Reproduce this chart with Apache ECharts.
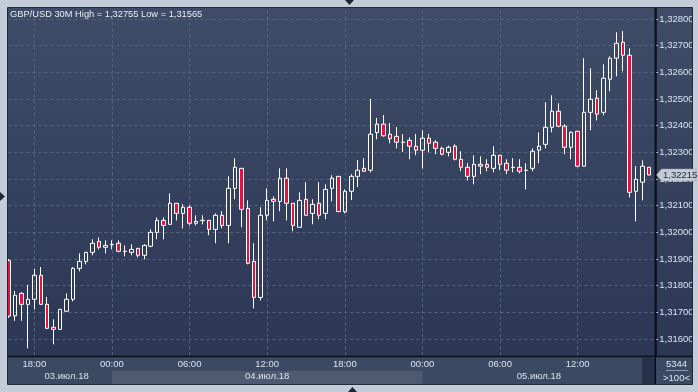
<!DOCTYPE html>
<html><head><meta charset="utf-8">
<script src="https://cdn.jsdelivr.net/npm/echarts@6/dist/echarts.min.js"></script>
<style>html,body{margin:0;padding:0;background:#c3ccd8;}#c{width:698px;height:392px;}</style>
</head><body><div id="c"></div>
<script>
// ---- data (GBP/USD, 30-minute bars, 03.07.2018 16:00 .. 05.07.2018 17:30) ----
const opens = [1.31894,1.31687,1.31771,1.31730,1.31749,1.31839,1.31730,1.31644,1.31636,1.31704,
1.31749,1.31865,1.31891,1.31925,1.31966,1.31944,1.31954,1.31959,1.31928,1.31925,
1.31940,1.31914,1.31948,1.32000,1.32045,1.32030,1.32109,1.32071,1.32094,1.32034,
1.32044,1.32045,1.32011,1.32064,1.32026,1.32165,1.32240,1.32090,1.31891,1.31756,
1.32064,1.32124,1.32116,1.32203,1.32109,1.32019,1.32124,1.32071,1.32109,1.32071,
1.32165,1.32210,1.32077,1.32154,1.32210,1.32240,1.32233,1.32374,1.32406,1.32368,
1.32360,1.32337,1.32345,1.32323,1.32308,1.32353,1.32338,1.32315,1.32300,1.32323,
1.32274,1.32244,1.32210,1.32255,1.32255,1.32240,1.32289,1.32259,1.32243,1.32244,
1.32232,1.32240,1.32308,1.32330,1.32394,1.32454,1.32398,1.32319,1.32379,1.32248,
1.32450,1.32503,1.32450,1.32574,1.32653,1.32713,1.32664,1.32154,1.32188,1.32244];
const closes = [1.31686,1.31764,1.31730,1.31749,1.31839,1.31730,1.31640,1.31636,1.31711,1.31749,
1.31865,1.31891,1.31925,1.31959,1.31944,1.31951,1.31955,1.31929,1.31929,1.31936,
1.31914,1.31951,1.32000,1.32045,1.32026,1.32109,1.32071,1.32094,1.32034,1.32041,
1.32045,1.32011,1.32064,1.32026,1.32165,1.32244,1.32086,1.31884,1.31756,1.32064,
1.32120,1.32116,1.32203,1.32109,1.32026,1.32120,1.32064,1.32105,1.32064,1.32161,
1.32203,1.32078,1.32154,1.32210,1.32233,1.32229,1.32368,1.32406,1.32362,1.32351,
1.32338,1.32338,1.32323,1.32308,1.32353,1.32334,1.32315,1.32293,1.32319,1.32274,
1.32244,1.32210,1.32255,1.32248,1.32244,1.32289,1.32255,1.32233,1.32244,1.32229,
1.32233,1.32304,1.32323,1.32394,1.32454,1.32398,1.32319,1.32375,1.32248,1.32450,
1.32499,1.32443,1.32578,1.32653,1.32709,1.32664,1.32150,1.32199,1.32248,1.32215];
const lows = [1.31679,1.31668,1.31668,1.31565,1.31711,1.31728,1.31638,1.31580,1.31634,1.31703,
1.31741,1.31854,1.31880,1.31914,1.31936,1.31921,1.31936,1.31925,1.31910,1.31914,
1.31906,1.31899,1.31944,1.31974,1.31974,1.32029,1.32045,1.32015,1.32026,1.32026,
1.32030,1.31989,1.31959,1.32015,1.31959,1.32124,1.32019,1.31880,1.31715,1.31745,
1.32045,1.32041,1.32079,1.32045,1.32004,1.32018,1.32063,1.32030,1.32049,1.32049,
1.32116,1.32075,1.32071,1.32121,1.32170,1.32228,1.32225,1.32349,1.32359,1.32334,
1.32315,1.32302,1.32274,1.32289,1.32239,1.32300,1.32293,1.32289,1.32285,1.32270,
1.32229,1.32195,1.32180,1.32218,1.32229,1.32225,1.32233,1.32218,1.32225,1.32221,
1.32161,1.32229,1.32259,1.32315,1.32375,1.32394,1.32293,1.32274,1.32244,1.32247,
1.32383,1.32420,1.32439,1.32529,1.32585,1.32604,1.32131,1.32041,1.32120,1.32214];
const highs = [1.31900,1.31780,1.31776,1.31803,1.31863,1.31870,1.31758,1.31674,1.31713,1.31771,
1.31869,1.31921,1.31927,1.31974,1.31981,1.31970,1.31970,1.31970,1.31951,1.31955,
1.31941,1.31955,1.32011,1.32056,1.32056,1.32146,1.32110,1.32105,1.32101,1.32064,
1.32064,1.32046,1.32071,1.32079,1.32210,1.32278,1.32241,1.32120,1.31959,1.32094,
1.32165,1.32135,1.32240,1.32240,1.32110,1.32150,1.32188,1.32124,1.32188,1.32180,
1.32214,1.32211,1.32161,1.32218,1.32271,1.32278,1.32500,1.32429,1.32440,1.32410,
1.32395,1.32368,1.32356,1.32369,1.32383,1.32369,1.32345,1.32321,1.32325,1.32330,
1.32304,1.32259,1.32289,1.32285,1.32274,1.32323,1.32290,1.32274,1.32278,1.32274,
1.32259,1.32315,1.32375,1.32488,1.32514,1.32484,1.32405,1.32379,1.32380,1.32653,
1.32615,1.32533,1.32630,1.32660,1.32750,1.32755,1.32690,1.32248,1.32270,1.32245];

// categories: one per 30-minute bar, plus one empty slot at the right edge
const categories = [];
(function () {
  const pad = n => String(n).padStart(2, '0');
  const t0 = Date.UTC(2018, 6, 3, 16, 0);
  for (let i = 0; i <= opens.length; i++) {
    const d = new Date(t0 + i * 1800000);
    categories.push(d.getUTCFullYear() + '-' + pad(d.getUTCMonth() + 1) + '-' + pad(d.getUTCDate()) + ' ' + pad(d.getUTCHours()) + ':' + pad(d.getUTCMinutes()));
  }
})();
const timeTickLabels = ['00:00', '06:00', '12:00', '18:00'];
const dateLabels = ['03.июл.18', '04.июл.18', '05.июл.18'];
const dateLabelSlots = ['2018-07-03 20:30', '2018-07-04 12:00', '2018-07-05 09:00'];
const dayBand = ['2018-07-04 00:00', '2018-07-05 00:00'];
const yTicks = { min: 1.315, max: 1.329, step: 0.001 };
const barsTotal = '5344';
const barsVisible = '>100<';

// ---- chart ----
const FONT = '"Liberation Sans", Arial, sans-serif';
const fmt = v => v.toFixed(5).replace('.', ',');
const ohlc = opens.map((o, i) => [o, closes[i], lows[i], highs[i]]);
const isTimeTick = i => i < opens.length && timeTickLabels.indexOf(categories[i].slice(11)) >= 0;
const hiVal = Math.max.apply(null, highs), loVal = Math.min.apply(null, lows);

const chart = echarts.init(document.getElementById('c'), null, { renderer: 'canvas', width: 698, height: 392 });
const gridLine = { color: '#56647e', type: [3, 3], width: 1 };
chart.setOption({
  animation: false,
  backgroundColor: '#c3ccd8',
  textStyle: { fontFamily: FONT },
  title: {
    text: 'GBP/USD 30M High = ' + fmt(hiVal) + ' Low = ' + fmt(loVal),
    left: 10, top: 10, padding: 0, z: 70,
    textStyle: { color: '#e8edf5', fontSize: 9.3, fontWeight: 'normal', fontFamily: FONT }
  },
  grid: { left: 8.42, right: 42.7, top: -7.67, bottom: 26.33, containLabel: false, outerBoundsMode: 'none' },
  xAxis: [
    { type: 'category', data: categories, boundaryGap: false,
      axisLine: { show: false }, axisTick: { show: false }, axisLabel: { show: false },
      splitLine: { show: true, interval: i => isTimeTick(i), lineStyle: gridLine } },
    { type: 'category', data: categories, boundaryGap: false, position: 'bottom', z: 60,
      axisLine: { show: false }, axisTick: { show: false }, splitLine: { show: false },
      axisLabel: { interval: i => isTimeTick(i), formatter: v => v.slice(11), margin: -6,
        color: '#d9e2ef', fontSize: 9.5, fontFamily: FONT } },
    { type: 'category', data: categories, boundaryGap: false, position: 'bottom', z: 60,
      axisLine: { show: false }, axisTick: { show: false }, splitLine: { show: false },
      axisLabel: { interval: (i, v) => dateLabelSlots.indexOf(v) >= 0,
        formatter: v => dateLabels[dateLabelSlots.indexOf(v)], margin: 6,
        color: '#d9e2ef', fontSize: 9.5, fontFamily: FONT } }
  ],
  yAxis: {
    type: 'value', position: 'right', min: yTicks.min, max: yTicks.max, interval: yTicks.step,
    axisLine: { show: true, lineStyle: { color: '#0b0f17', width: 1.5 } },
    axisTick: { show: true, length: 3, lineStyle: { color: '#8fa6c8' } },
    axisLabel: { margin: 4, color: '#d9e3f2', fontSize: 9.5, fontFamily: FONT,
      formatter: v => (v < yTicks.min + 0.0009 || v > yTicks.max - 0.0009) ? '' : fmt(v) },
    splitLine: { show: true, lineStyle: gridLine }
  },
  series: [{
    type: 'candlestick', data: ohlc, xAxisIndex: 0, yAxisIndex: 0, barWidth: 4,
    itemStyle: { color: 'rgba(0,0,0,0)', color0: '#e3153e', borderColor: '#ffffff', borderColor0: '#ffffff', borderWidth: 1 }
  }]
});

// decorations positioned through the axes
const xDay0 = chart.convertToPixel({ xAxisIndex: 0 }, categories.indexOf(dayBand[0]));
const xDay1 = chart.convertToPixel({ xAxisIndex: 0 }, categories.indexOf(dayBand[1]));
const lastClose = closes[closes.length - 1];
const yLast = chart.convertToPixel({ yAxisIndex: 0 }, lastClose);
const frame = '#c3ccd8';
chart.setOption({
  graphic: { elements: [
    { type: 'rect', z: -10, silent: true, shape: { x: 8, y: 8, width: 684, height: 349 },
      style: { fill: new echarts.graphic.LinearGradient(0, 0, 0, 1, [{ offset: 0, color: '#3f4c67' }, { offset: 1, color: '#2b3755' }]) } },
    { type: 'rect', z: 50, silent: true, shape: { x: 8, y: 357, width: 684, height: 27 }, style: { fill: '#3c4962' } },
    { type: 'rect', z: 51, silent: true, shape: { x: xDay0, y: 371, width: xDay1 - xDay0, height: 13 }, style: { fill: '#4e5a71' } },
    { type: 'rect', z: 51, silent: true, shape: { x: 642, y: 358, width: 13, height: 26 }, style: { fill: '#27324a' } },
    { type: 'rect', z: 50, silent: true, shape: { x: 0, y: 0, width: 698, height: 7.5 }, style: { fill: frame } },
    { type: 'rect', z: 50, silent: true, shape: { x: 0, y: 0, width: 7.5, height: 392 }, style: { fill: frame } },
    { type: 'rect', z: 50, silent: true, shape: { x: 692.5, y: 0, width: 5.5, height: 392 }, style: { fill: frame } },
    { type: 'rect', z: 50, silent: true, shape: { x: 0, y: 384.5, width: 698, height: 7.5 }, style: { fill: frame } },
    { type: 'line', z: 55, silent: true, shape: { x1: 8, y1: 356.5, x2: 692, y2: 356.5 }, style: { stroke: '#0b0f17', lineWidth: 1.5 } },
    { type: 'line', z: 55, silent: true, shape: { x1: 655.3, y1: 8, x2: 655.3, y2: 384 }, style: { stroke: '#0b0f17', lineWidth: 1.5 } },
    { type: 'rect', z: 56, silent: true, shape: { x: 7.5, y: 7.5, width: 685, height: 377 }, style: { fill: null, stroke: '#232b3a', lineWidth: 1 } },
    { type: 'polygon', z: 57, silent: true, shape: { points: [[345, 0], [354, 0], [349.5, 5]] }, style: { fill: '#1c2636' } },
    { type: 'polygon', z: 57, silent: true, shape: { points: [[348, 392], [357, 392], [352.5, 387]] }, style: { fill: '#1c2636' } },
    { type: 'polygon', z: 57, silent: true, shape: { points: [[0, 192], [0, 201], [5, 196.5]] }, style: { fill: '#1c2636' } },
    { type: 'text', z: 60, silent: true, style: { text: barsTotal, x: 676.5, y: 364, align: 'center', verticalAlign: 'middle', fill: '#dfe7f2', font: '9.5px ' + FONT } },
    { type: 'line', z: 60, silent: true, shape: { x1: 666, y1: 370.5, x2: 688, y2: 370.5 }, style: { stroke: '#8e9bb0', lineWidth: 1 } },
    { type: 'text', z: 60, silent: true, style: { text: barsVisible, x: 676.5, y: 378, align: 'center', verticalAlign: 'middle', fill: '#dfe7f2', font: '9.5px ' + FONT } },
    { type: 'polygon', z: 60, silent: true, shape: { points: [[656.5, yLast], [661.5, yLast - 6], [696, yLast - 6], [696, yLast + 6], [661.5, yLast + 6]] },
      style: { fill: '#c6ccd5', stroke: '#9aa3b0', lineWidth: 0.5 } },
    { type: 'text', z: 61, silent: true, style: { text: fmt(lastClose), x: 663, y: yLast, align: 'left', verticalAlign: 'middle', fill: '#1e2636', font: '9.5px ' + FONT } }
  ] }
});
</script></body></html>
